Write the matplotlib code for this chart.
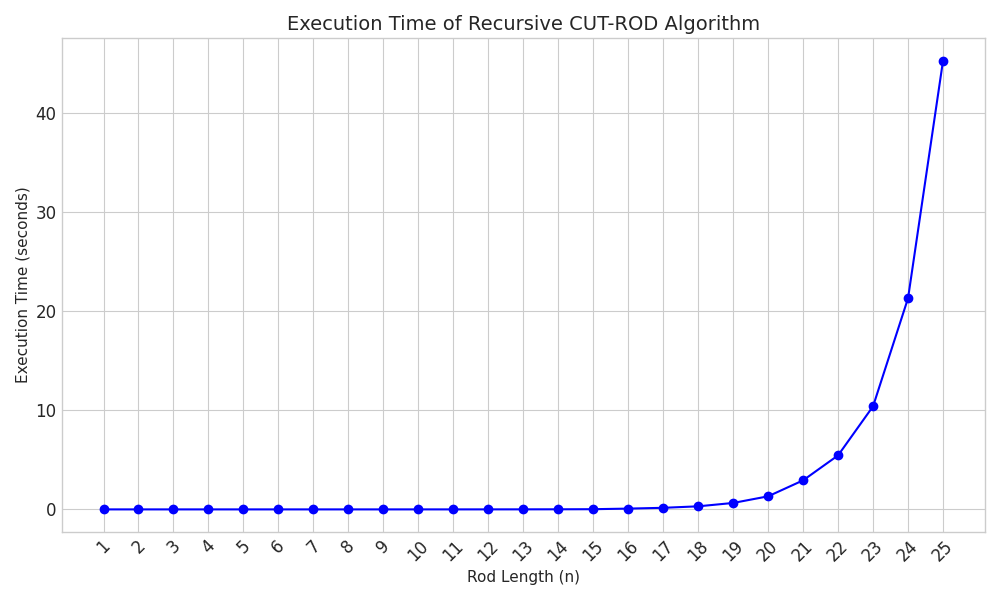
import matplotlib
matplotlib.use("Agg")
import matplotlib.pyplot as plt

# Rod lengths and measured execution times (seconds)
rod_lengths = list(range(1, 26))
exec_times = [0.0, 0.0, 0.0, 0.0, 0.0, 0.0, 0.0, 0.0, 0.0, 0.001,
              0.001, 0.002, 0.005, 0.01, 0.02, 0.08, 0.16, 0.31, 0.65, 1.32,
              2.93, 5.45, 10.4, 21.3, 45.25]

plt.style.use("seaborn-v0_8-whitegrid")
plt.rcParams['font.family'] = ['DejaVu Sans']
fig, ax = plt.subplots(figsize=(10, 6), dpi=100)

ax.plot(rod_lengths, exec_times, marker='o', linestyle='-', color='blue')

ax.set_title("Execution Time of Recursive CUT-ROD Algorithm", fontsize=14)
ax.set_xlabel("Rod Length (n)", fontsize=11)
ax.set_ylabel("Execution Time (seconds)", fontsize=11)
ax.set_xticks(rod_lengths)
ax.tick_params(axis='x', labelrotation=45, labelsize=12)
ax.tick_params(axis='y', labelsize=12)
for spine in ax.spines.values():
    spine.set_visible(True)
    spine.set_color("#cccccc")

plt.tight_layout()
plt.savefig("out.png")
